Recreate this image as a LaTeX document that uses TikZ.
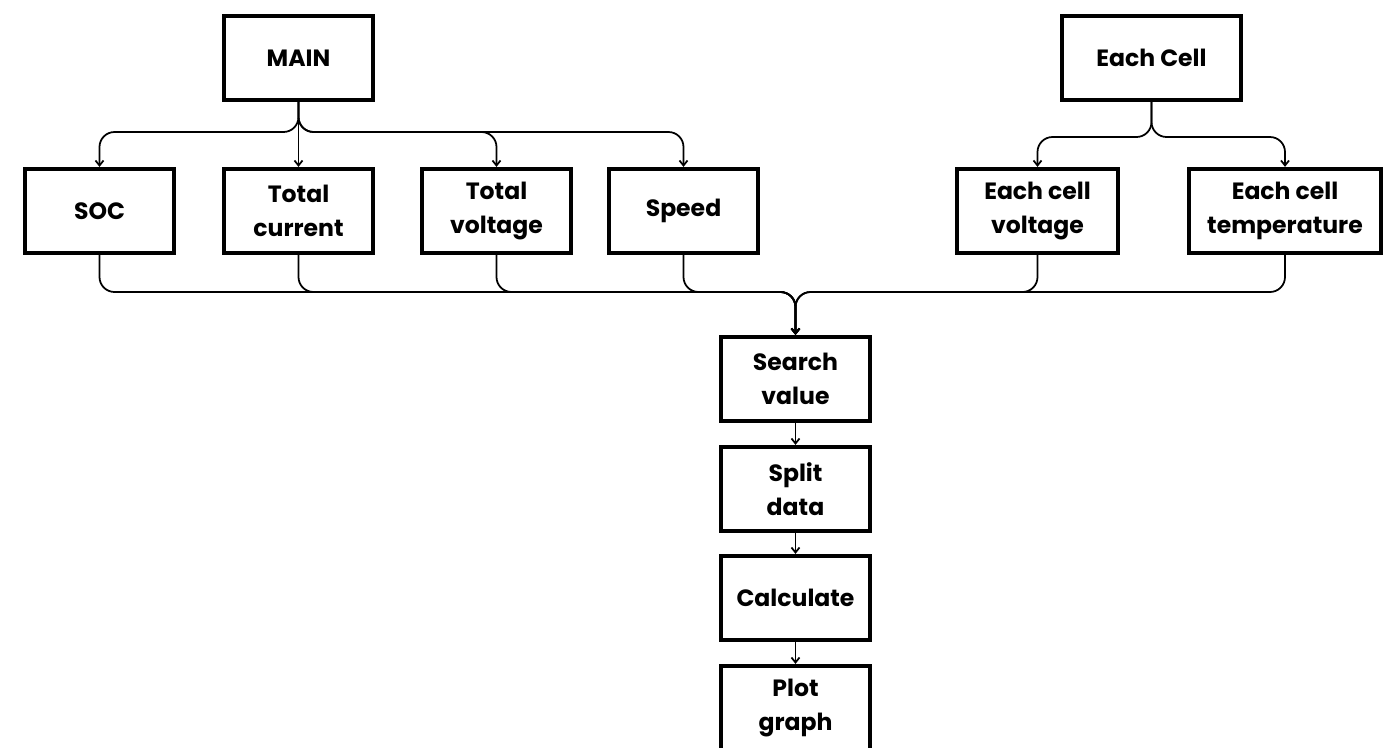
\documentclass[tikz,border=0pt]{standalone}
\usepackage{fontspec}
\setmainfont{Poppins}
\usetikzlibrary{arrows.meta}

\begin{document}
\begin{tikzpicture}[
        box/.style={
        rectangle, draw=black, line width=0.085cm,
        minimum width=2.98cm, minimum height=1.68cm,
        inner sep=0pt, align=center, fill=white,
        font=\fontsize{13.4}{19.6}\selectfont\bfseries},
        flow/.style={
        line width=1pt, rounded corners=0.3cm,
        -{Straight Barb[length=1mm,width=1.6mm]}},
        ]

        \useasboundingbox (0,0) rectangle (27.96,-14.94);

        \node (main) [box] at (5.97,-1.16){MAIN};
        \node (cell) [box, minimum width=3.58cm] at (23.03,-1.16){Each Cell};

        \node (soc) [box] at (1.99,-4.22){SOC};
        \node (totcur) [box] at (5.97,-4.22){Total\\current};
        \node (totvol) [box] at (9.93,-4.22){Total\\voltage};
        \node (speed) [box] at (13.67,-4.22){Speed};
        \node (cellvol) [box, minimum width=3.22cm] at (20.75,-4.22){Each cell\\voltage};
        \node (celltemp) [box, minimum width=3.84cm] at (25.70,-4.22){Each cell\\temperature};

        \node (search) [box] at (15.91,-7.58){Search\\value};
        \node (split) [box] at (15.91,-9.78){Split\\data};
        \node (calc) [box] at (15.91,-11.96){Calculate};
        \node (plot) [box] at (15.91,-14.16){Plot\\graph};

        \coordinate (mainsplit) at (5.97,-2.64);
        \coordinate (cellsplit) at (23.03,-2.74);
        \coordinate (merge) at (15.91,-5.84);

        \draw [flow] (main.south) -- (mainsplit) -| (soc.north);
        \draw [flow] (main.south) -- (totcur.north);
        \draw [flow] (main.south) -- (mainsplit) -| (totvol.north);
        \draw [flow] (main.south) -- (mainsplit) -| (speed.north);
        \draw [flow] (cell.south) -- (cellsplit) -| (cellvol.north);
        \draw [flow] (cell.south) -- (cellsplit) -| (celltemp.north);

        \draw [flow] (soc.south) |- (merge) -- (search.north);
        \draw [flow] (totcur.south) |- (merge) -- (search.north);
        \draw [flow] (totvol.south) |- (merge) -- (search.north);
        \draw [flow] (speed.south) |- (merge) -- (search.north);
        \draw [flow] (cellvol.south) |- (merge) -- (search.north);
        \draw [flow] (celltemp.south) |- (merge) -- (search.north);

        \draw [flow] (search.south) -- (split.north);
        \draw [flow] (split.south) -- (calc.north);
        \draw [flow] (calc.south) -- (plot.north);
    \end{tikzpicture}
\end{document}
